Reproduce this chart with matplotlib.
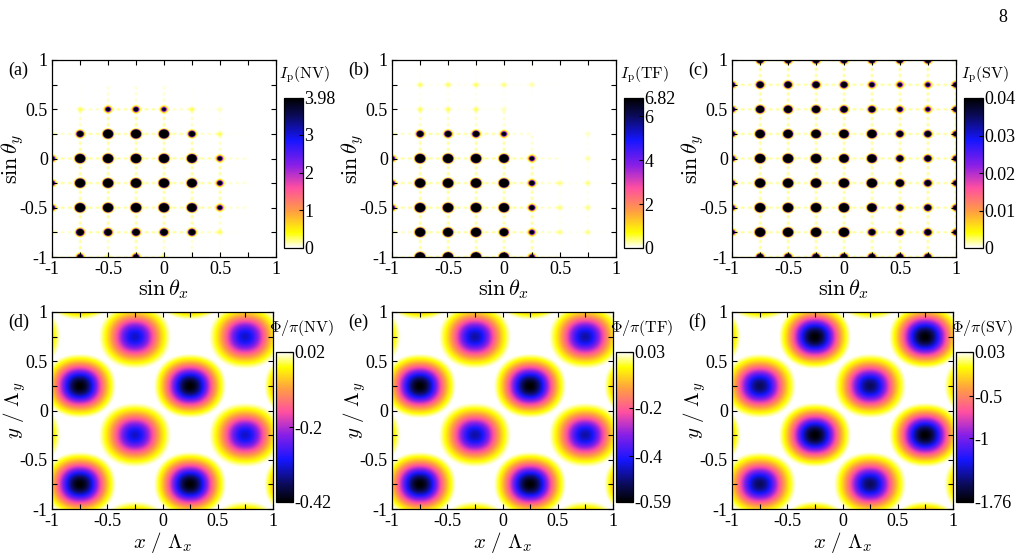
import numpy as np
import matplotlib.pyplot as plt
from matplotlib.colors import LinearSegmentedColormap
from matplotlib.ticker import MultipleLocator

plt.rcParams['font.family'] = ['Liberation Serif', 'DejaVu Serif']
plt.rcParams['mathtext.fontset'] = 'cm'

W, H = 1023, 559

# diffraction orders at sin(theta) = -1 ... 1 in steps of 0.25
grid = [-1, -0.75, -0.5, -0.25, 0, 0.25, 0.5, 0.75, 1]

# peak intensities, rows from sin(theta_y)=1 (top) down to -1, columns sin(theta_x) -1..1
# (saturated orders estimated from spot size)
peaks_nv = [
    [0, 0, 0, 0, 0, 0, 0, 0, 0],
    [0, 0, 0, 0, 0, 0, 0, 0, 0],
    [0, 0.3, 8, 9, 6, 0.3, 0.12, 0, 0],
    [0.2, 24, 280, 300, 280, 20, 0.3, 0, 0],
    [8, 300, 320, 360, 320, 200, 8, 0, 0],
    [8, 300, 360, 400, 360, 220, 9, 0, 0],
    [8, 300, 320, 360, 320, 200, 8, 0, 0],
    [0.2, 40, 40, 40, 40, 28, 0.3, 0, 0],
    [0, 12, 0.3, 12, 0.3, 0, 0, 0, 0],
]
peaks_tf = [
    [0, 0, 0, 0, 0, 0, 0, 0, 0],
    [0, 0.5, 0.5, 0.5, 0.4, 0.3, 0, 0, 0],
    [0, 0.5, 0.5, 0.5, 0.2, 0, 0, 0, 0],
    [0.3, 40, 40, 40, 14, 0, 0, 0.2, 0],
    [12, 550, 550, 550, 300, 14, 0, 0.3, 0],
    [12, 600, 650, 650, 500, 20, 0.4, 0.4, 0],
    [12, 600, 650, 650, 500, 20, 0.4, 0.4, 0],
    [0.3, 500, 400, 500, 150, 14, 0.4, 0.4, 0],
    [0, 500, 500, 500, 300, 14, 0, 0, 0],
]
peaks_sv = [
    [0, 0.24, 0.24, 0.24, 0.24, 0.2, 0.2, 0.2, 0],
    [0.1, 0.3, 0.3, 0.3, 0.24, 0.1, 0.07, 0.07, 0.1],
    [0.1, 0.6, 0.6, 0.6, 0.3, 0.24, 0.1, 0.07, 0.1],
    [0.1, 1.6, 1.6, 1.6, 1.6, 1.6, 0.24, 0.24, 0.1],
    [0.1, 3.2, 3.2, 3.2, 1.6, 1.6, 0.24, 0.24, 0.1],
    [0.1, 3.2, 3.2, 3.2, 3.2, 3.2, 0.6, 0.24, 0.1],
    [0.08, 3.2, 3.2, 3.2, 3.2, 1.6, 0.24, 0.24, 0.1],
    [0.08, 3.2, 3.2, 3.2, 3.2, 0.24, 0.24, 0.24, 0.1],
    [0, 0.24, 0.24, 0.24, 0.24, 0.24, 0.2, 0.2, 0],
]
int_max = [3.98, 6.82, 0.04]
int_ticks = [[0, 1, 2, 3, 3.98], [0, 2, 4, 6, 6.82], [0, 0.01, 0.02, 0.03, 0.04]]
int_ticklabels = [['0', '1', '2', '3', '3.98'], ['0', '2', '4', '6', '6.82'],
                  ['0', '0.01', '0.02', '0.03', '0.04']]
names = ['NV', 'TF', 'SV']

# phase maps: maximum, deep and shallow minima (units of pi), minima positions in one cell
phase_top = [0.02, 0.03, 0.03]
phase_deep = [-0.42, -0.59, -1.76]
phase_shallow = [-0.32, -0.47, -1.55]
deep_at = [(0.25, 0.25), (0.25, 0.25), (-0.25, -0.25)]
shallow_at = [(-0.25, -0.25), (-0.25, -0.25), (0.25, 0.25)]
phase_ticks = [[0.02, -0.2, -0.42], [0.03, -0.2, -0.4, -0.59], [0.03, -0.5, -1, -1.76]]
phase_ticklabels = [['0.02', '-0.2', '-0.42'], ['0.03', '-0.2', '-0.4', '-0.59'],
                    ['0.03', '-0.5', '-1', '-1.76']]

palette = ['#000000', '#0b0b5c', '#1515ff', '#8a1fe6', '#ff4fa0', '#ffa040', '#ffff00', '#ffffff']
stops = [0, 0.12, 0.28, 0.45, 0.6, 0.76, 0.9, 1]
cmap_phase = LinearSegmentedColormap.from_list('pm', list(zip(stops, palette)))
cmap_int = cmap_phase.reversed()


def px(l, t, w, h):
    return [l / W, 1 - (t + h) / H, w / W, h / H]


def spot_image(peaks, vmax, n=600):
    xs = np.linspace(-1, 1, n)
    g = np.array(grid)
    A = np.array(peaks, dtype=float)[::-1]
    d = xs[None, :] - g[:, None]
    core = np.exp(-(d / 0.021) ** 2)
    dash = np.sin(np.pi * d / 0.0625) ** 2 * (np.abs(d) <= 0.25)
    thin = np.exp(-(d / 0.012) ** 2)
    S = 0.025 * vmax * np.sqrt(np.clip(A / vmax, 0, 1))
    return core.T @ A @ core + thin.T @ S @ dash + dash.T @ S @ thin


def phase_image(k, n=400):
    xs = np.linspace(-1, 1, n)
    X, Y = np.meshgrid(xs, xs)
    top = phase_top[k]
    field = np.full_like(X, top)
    for (cx, cy), low in ((deep_at[k], phase_deep[k]), (shallow_at[k], phase_shallow[k])):
        for mx in range(-2, 3):
            for my in range(-2, 3):
                r = (np.abs(X - cx - mx) ** 2.2 + np.abs(Y - cy - my) ** 2.2) ** (1 / 2.2)
                bump = np.exp(-(r / 0.2) ** 2) * np.clip(1 - (r / 0.33) ** 8, 0, 1)
                field -= (top - low) * bump
    return np.clip(field, phase_deep[k], top)


def style_axes(ax):
    ax.set_xlim(-1, 1)
    ax.set_ylim(-1, 1)
    ax.xaxis.set_minor_locator(MultipleLocator(0.25))
    ax.yaxis.set_minor_locator(MultipleLocator(0.25))
    ax.tick_params(which='both', direction='in', length=3.5, width=0.8,
                   top=True, right=True, labelsize=13, pad=3)
    ax.set_xticks([-1, -0.5, 0, 0.5, 1])
    ax.set_xticklabels(['-1', '-0.5', '0', '0.5', '1'])
    ax.set_yticks([-1, -0.5, 0, 0.5, 1])
    ax.set_yticklabels(['-1', '-0.5', '0', '0.5', '1'])
    for s in ax.spines.values():
        s.set_linewidth(0.9)


fig = plt.figure(figsize=(W / 100, H / 100), dpi=100)
fig.text(1003 / W, 1 - 18 / H, '8', fontsize=13, ha='center', va='center')

letters = ['(a)', '(b)', '(c)', '(d)', '(e)', '(f)']
for k in range(3):
    x0 = 52 + 340 * k
    # intensity
    ax = fig.add_axes(px(x0, 60, 224, 197))
    img = spot_image(peaks_nv if k == 0 else peaks_tf if k == 1 else peaks_sv, int_max[k])
    im = ax.imshow(img, extent=[-1, 1, -1, 1], origin='lower', cmap=cmap_int,
                   vmin=0, vmax=int_max[k], aspect='auto', interpolation='antialiased')
    style_axes(ax)
    ax.set_xlabel(r'$\sin\theta_x$', fontsize=16, labelpad=-1)
    ax.set_ylabel(r'$\sin\theta_y$', fontsize=16)
    ax.yaxis.set_label_coords(-0.118, 0.5)
    fig.text((x0 - 44) / W, 1 - 70 / H, letters[k], fontsize=13, ha='left', va='center')
    cax = fig.add_axes(px(x0 + 232, 98, 19, 150))
    cb = fig.colorbar(im, cax=cax)
    cb.set_ticks(int_ticks[k])
    cb.set_ticklabels(int_ticklabels[k])
    cax.tick_params(direction='in', length=3, width=0.8, labelsize=13, pad=1)
    cb.outline.set_linewidth(0.9)
    fig.text((x0 + 253) / W, 1 - 75 / H, r'$I_{\rm p}{\rm (%s)}$' % names[k],
             fontsize=11.5, ha='center', va='center')

    # phase
    ax = fig.add_axes(px(x0, 312, 221, 197))
    ph = phase_image(k)
    im = ax.imshow(ph, extent=[-1, 1, -1, 1], origin='lower', cmap=cmap_phase,
                   vmin=phase_deep[k], vmax=phase_top[k], aspect='auto',
                   interpolation='bilinear')
    style_axes(ax)
    ax.set_xlabel(r'$x\ /\ \Lambda_x$', fontsize=15, labelpad=0)
    ax.set_ylabel(r'$y\ /\ \Lambda_y$', fontsize=15)
    ax.yaxis.set_label_coords(-0.11, 0.5)
    fig.text((x0 - 44) / W, 1 - 322 / H, letters[k + 3], fontsize=13, ha='left', va='center')
    cax = fig.add_axes(px(x0 + 224, 352, 17, 150))
    cb = fig.colorbar(im, cax=cax)
    cb.set_ticks(phase_ticks[k])
    cb.set_ticklabels(phase_ticklabels[k])
    cax.tick_params(direction='in', length=3, width=0.8, labelsize=13, pad=1)
    cb.outline.set_linewidth(0.9)
    fig.text((x0 + 250) / W, 1 - 328 / H, r'$\Phi/\pi{\rm (%s)}$' % names[k],
             fontsize=11.5, ha='center', va='center')

fig.savefig('out.png', dpi=100)
